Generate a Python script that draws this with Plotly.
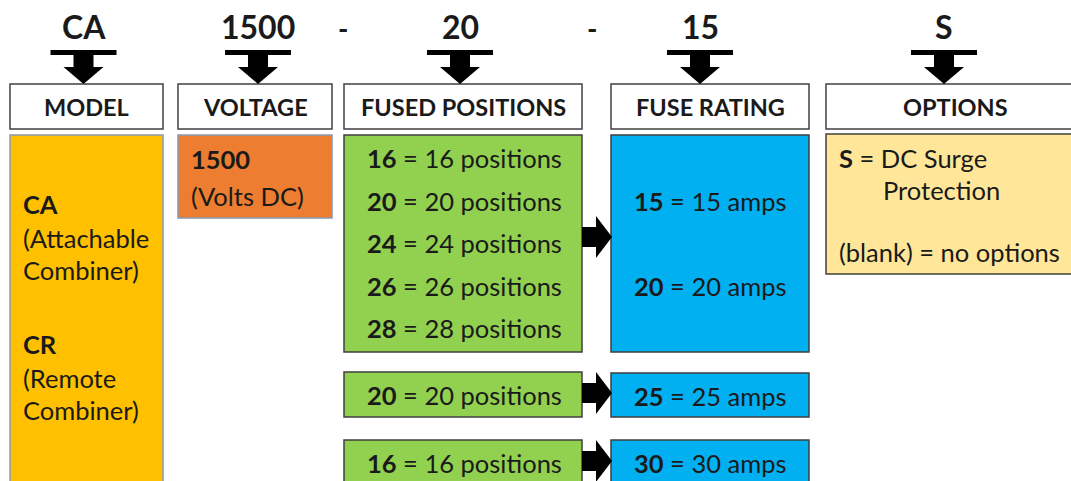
import plotly.graph_objects as go

# ---- content ----
codes = ["CA", "1500", "20", "15", "S"]
separators = ["-", "-"]
headers = ["MODEL", "VOLTAGE", "FUSED POSITIONS", "FUSE RATING", "OPTIONS"]
model_lines = [("CA", True), ("(Attachable", False), ("Combiner)", False),
               ("CR", True), ("(Remote", False), ("Combiner)", False)]
voltage_lines = [("1500", True), ("(Volts DC)", False)]
position_codes_main = ["16", "20", "24", "26", "28"]
position_codes_25 = ["20"]
position_codes_30 = ["16"]
rating_codes_main = ["15", "20"]
rating_codes_other = ["25", "30"]

W, H = 1071, 481
FONT = "Lato"
TXT = "#1a1a1a"
BODY = 25.5

# ---- layout geometry (pixels) ----
cols = [(10, 163), (178, 332), (344, 582), (611, 809), (826, 1085)]
code_x = [83.5, 258, 460, 700, 944]
sep_x = [343, 592]
hdr_y0, hdr_y1 = 84, 129

shapes = []
ann = []

def rect(x0, y0, x1, y1, fill, line="#3f3f3f", lw=1.5):
    shapes.append(dict(type="rect", x0=x0, y0=y0, x1=x1, y1=y1, xref="x", yref="y",
                       fillcolor=fill, line=dict(color=line, width=lw), layer="below"))

def text(x, y, t, size, anchor="left", bold=False):
    if bold:
        t = "<b>" + t + "</b>"
    ann.append(dict(x=x, y=y, xref="x", yref="y", text=t, showarrow=False,
                    xanchor=anchor, yanchor="middle",
                    font=dict(family=FONT, size=size, color=TXT)))

# top codes with T-arrows
for c, cx in zip(codes, code_x):
    text(cx, 26, c, 32, "center", True)
    p = (f"M {cx-33},50 L {cx+33},50 L {cx+33},55 L {cx+10},55 L {cx+10},67 "
         f"L {cx+20},67 L {cx},84 L {cx-20},67 L {cx-10},67 L {cx-10},55 L {cx-33},55 Z")
    shapes.append(dict(type="path", path=p, xref="x", yref="y",
                       fillcolor="black", line=dict(color="black", width=0)))
for s, sx in zip(separators, sep_x):
    text(sx, 28, s, 28, "center", True)

# header boxes
for h, (x0, x1) in zip(headers, cols):
    rect(x0, hdr_y0, x1, hdr_y1, "white", "#404040", 1.5)
    cx = 955 if h == "OPTIONS" else (x0 + x1) / 2
    text(cx, 107, h, 23.5, "center", True)

# MODEL column
rect(10, 135, 163, 500, "#FFC000", "#8a9bb0", 1.5)
model_y = [204, 238, 270, 344, 378, 410]
for (t, b), y in zip(model_lines, model_y):
    text(21, y, t, BODY, "left", b)

# VOLTAGE column
rect(178, 135, 332, 218, "#ED7D31", "#8a9bb0", 1.5)
for (t, b), y in zip(voltage_lines, [159, 196]):
    text(189, y, t, BODY, "left", b)

# FUSED POSITIONS column
GREEN, BLUE = "#92D050", "#00B0F0"
rect(344, 135, 582, 352, GREEN)
rect(344, 372, 582, 417, GREEN)
rect(344, 440, 582, 500, GREEN)
for code, y in zip(position_codes_main, [158, 201, 243, 286, 328]):
    text(365, y, f"<b>{code}</b> = {code} positions", BODY)
for code in position_codes_25:
    text(365, 395, f"<b>{code}</b> = {code} positions", BODY)
for code in position_codes_30:
    text(365, 463, f"<b>{code}</b> = {code} positions", BODY)

# FUSE RATING column
rect(611, 135, 809, 352, BLUE)
rect(611, 373, 809, 417, BLUE)
rect(611, 440, 809, 500, BLUE)
for code, y in zip(rating_codes_main, [201, 286]):
    text(710, y, f"<b>{code}</b> = {code} amps", BODY, "center")
for code, y in zip(rating_codes_other, [396, 463]):
    text(710, y, f"<b>{code}</b> = {code} amps", BODY, "center")

# right arrows
for cy in [237, 393, 461]:
    p = (f"M 582,{cy-10} L 596,{cy-10} L 596,{cy-21} L 612,{cy} L 596,{cy+21} "
         f"L 596,{cy+10} L 582,{cy+10} Z")
    shapes.append(dict(type="path", path=p, xref="x", yref="y",
                       fillcolor="black", line=dict(color="black", width=0)))

# OPTIONS column
rect(826, 134, 1085, 274, "#FFE699", "#404040", 1.5)
text(837, 158, "<b>S</b> = DC Surge", BODY)
text(881, 190, "Protection", BODY)
text(837, 252, "(blank) = no options", BODY)

fig = go.Figure()
fig.update_layout(
    width=W, height=H, autosize=False,
    margin=dict(l=0, r=0, t=0, b=0),
    paper_bgcolor="white", plot_bgcolor="white",
    xaxis=dict(range=[0, W], visible=False, fixedrange=True),
    yaxis=dict(range=[H, 0], visible=False, fixedrange=True),
    shapes=shapes, annotations=ann, showlegend=False,
)
fig.write_html("out.html",
               config={"displayModeBar": False, "responsive": False},
               post_script="document.body.style.margin='0';document.body.style.overflow='hidden';")
